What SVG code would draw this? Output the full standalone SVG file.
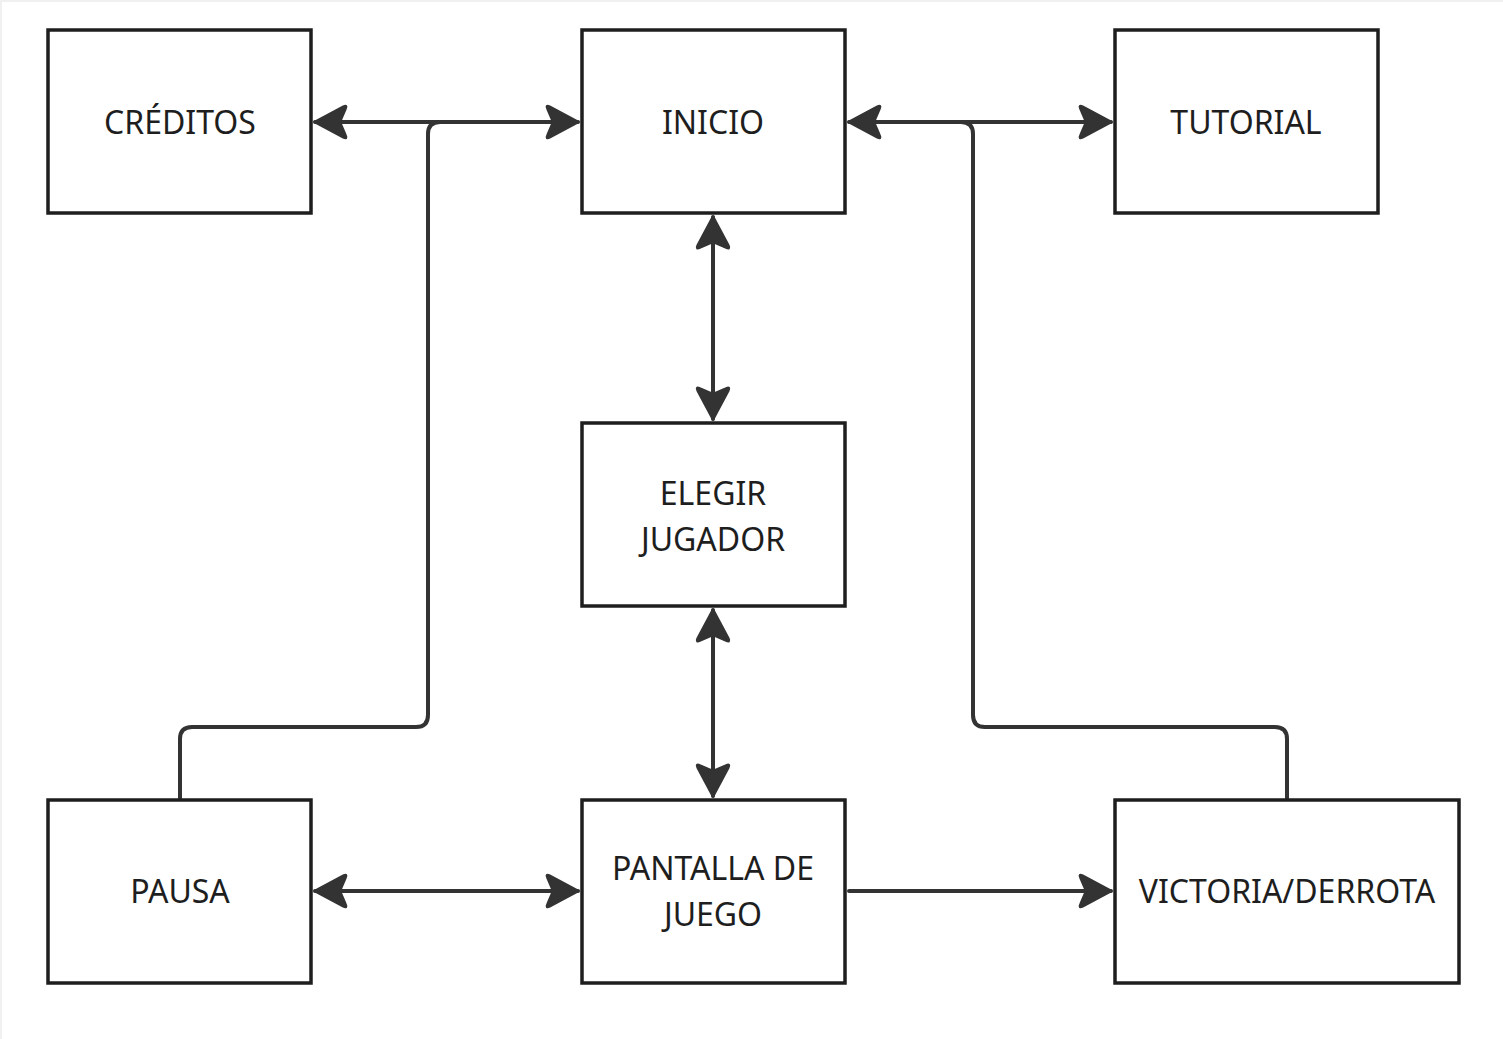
<svg xmlns="http://www.w3.org/2000/svg" width="1503" height="1039" viewBox="0 0 1503 1039">
<style>
.node rect{fill:#fff;stroke:#1e1e1e;stroke-width:3.5}
.node text{font-family:"Noto Sans","Open Sans",sans-serif;font-size:32px;fill:#1e1e1e;text-anchor:middle;dominant-baseline:central}
.conn path{fill:none;stroke:#333;stroke-width:4;stroke-linecap:round;stroke-linejoin:round}
</style>
<defs>
<marker id="ah" viewBox="0 0 20 20" refX="18" refY="10" markerWidth="9.5" markerHeight="9.5" markerUnits="strokeWidth" orient="auto-start-reverse">
<path d="M18,10 L3,2 Q1,1 2,3 L5,10 L2,17 Q1,19 3,18 Z" fill="#333" stroke="#333" stroke-width="1.5" stroke-linejoin="round"/>
</marker>
</defs>
<rect x="0" y="0" width="1503" height="1039" fill="#fff"/>
<path d="M1,1039 V1 H1503" fill="none" stroke="#f0f0f0" stroke-width="2"/>
<g class="conn">
<path d="M180,798 V739 Q180,727 192,727 H416 Q428,727 428,715 V134 Q428,122 440,122"/>
<path d="M1287,798 V739 Q1287,727 1275,727 H985 Q973,727 973,715 V134 Q973,122 961,122"/>
<path d="M315,122 H578" marker-start="url(#ah)" marker-end="url(#ah)"/>
<path d="M849,122 H1111" marker-start="url(#ah)" marker-end="url(#ah)"/>
<path d="M713,217 V419" marker-start="url(#ah)" marker-end="url(#ah)"/>
<path d="M713,610 V796" marker-start="url(#ah)" marker-end="url(#ah)"/>
<path d="M315,891 H578" marker-start="url(#ah)" marker-end="url(#ah)"/>
<path d="M849,891 H1111" marker-end="url(#ah)"/>
</g>
<g id="creditos" class="node"><rect x="48" y="30" width="263" height="183"/><text x="180" y="121">CRÉDITOS</text></g>
<g id="inicio" class="node"><rect x="582" y="30" width="263" height="183"/><text x="713" y="121">INICIO</text></g>
<g id="tutorial" class="node"><rect x="1115" y="30" width="263" height="183"/><text x="1246" y="121">TUTORIAL</text></g>
<g id="elegir" class="node"><rect x="582" y="423" width="263" height="183"/><text x="713" y="492">ELEGIR</text><text x="713" y="538">JUGADOR</text></g>
<g id="pausa" class="node"><rect x="48" y="800" width="263" height="183"/><text x="180" y="890">PAUSA</text></g>
<g id="pantalla" class="node"><rect x="582" y="800" width="263" height="183"/><text x="713" y="867">PANTALLA DE</text><text x="713" y="913">JUEGO</text></g>
<g id="victoria" class="node"><rect x="1115" y="800" width="344" height="183"/><text x="1287" y="890">VICTORIA/DERROTA</text></g>
</svg>
